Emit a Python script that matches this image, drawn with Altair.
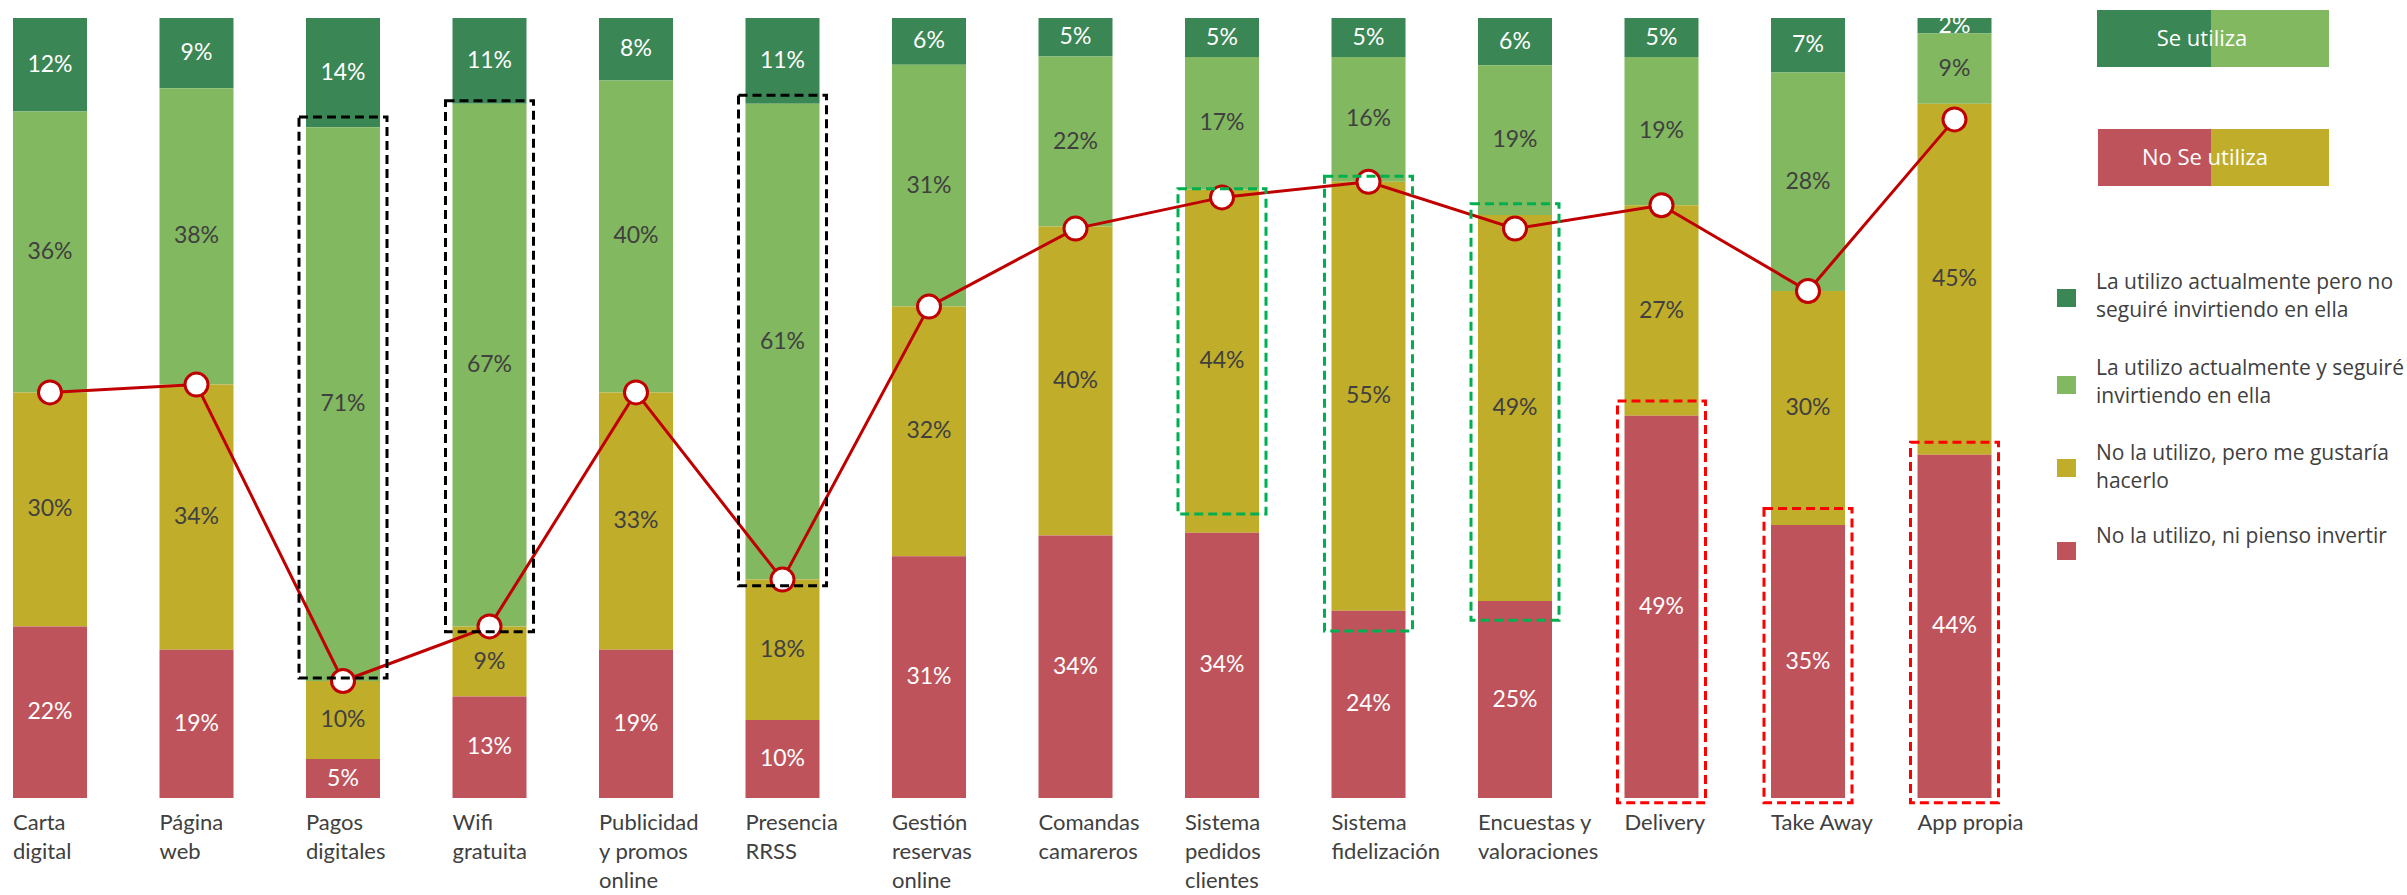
import altair as alt
import pandas as pd

# ---------------- data ----------------
categories = ["Carta|digital", "Página|web", "Pagos|digitales", "Wifi|gratuita",
              "Publicidad|y promos|online", "Presencia|RRSS", "Gestión|reservas|online",
              "Comandas|camareros", "Sistema|pedidos|clientes", "Sistema|fidelización",
              "Encuestas y|valoraciones", "Delivery", "Take Away", "App propia"]

series = ["La utilizo actualmente pero no seguiré invirtiendo en ella",
          "La utilizo actualmente y seguiré invirtiendo en ella",
          "No la utilizo, pero me gustaría hacerlo",
          "No la utilizo, ni pienso invertir"]
series_lines = [["La utilizo actualmente pero no", "seguiré invirtiendo en ella"],
                ["La utilizo actualmente y seguiré", "invirtiendo en ella"],
                ["No la utilizo, pero me gustaría", "hacerlo"],
                ["No la utilizo, ni pienso invertir"]]
colors = ["#3A8654", "#82B85F", "#C0AE2B", "#BF535C"]

uso_sin_inversion = [12, 9, 14, 11, 8, 11, 6, 5, 5, 5, 6, 5, 7, 2]
uso_con_inversion = [36, 38, 71, 67, 40, 61, 31, 22, 17, 16, 19, 19, 28, 9]
no_uso_interes = [30, 34, 10, 9, 33, 18, 32, 40, 44, 55, 49, 27, 30, 45]
no_uso_sin_interes = [22, 19, 5, 13, 19, 10, 31, 34, 34, 24, 25, 49, 35, 44]
stack_order = [3, 2, 1, 0]  # bottom = 0

no_se_utiliza = [52, 53, 15, 22, 52, 28, 63, 73, 77, 79, 73, 76, 65, 87]

# annotation boxes (in % of the bar height)
box_black_cats = [2, 3, 5]
box_black_low = [15.4, 21.3, 27.2]
box_black_high = [87.3, 89.4, 90.1]
box_green_cats = [8, 9, 10]
box_green_low = [36.4, 21.4, 22.8]
box_green_high = [78.1, 79.7, 76.2]
box_red_cats = [11, 12, 13]
box_red_low = [-0.6, -0.6, -0.6]
box_red_high = [50.9, 37.1, 45.6]

# ---------------- tables ----------------
vals = [uso_sin_inversion, uso_con_inversion, no_uso_interes, no_uso_sin_interes]
rows = []
for s_i, s in enumerate(series):
    for c_i, c in enumerate(categories):
        rows.append({"cat": c, "serie": s, "pct": vals[s_i][c_i], "order": stack_order[s_i]})
df = pd.DataFrame(rows)

line_df = pd.DataFrame({"cat": categories, "val": no_se_utiliza})


def box_df(cats, low, high):
    return pd.DataFrame({"cat": [categories[i] for i in cats], "low": low, "high": high})


FONT = "Lato"
LFONT = "Open Sans"
step = 146.5
bandw = 74
pad_inner = 1 - bandw / step
pad_outer = 13 / step
W = step * (len(categories) - pad_inner + 2 * pad_outer)
H = 780
TOP = 18

xenc = alt.X("cat:N", sort=categories,
             scale=alt.Scale(paddingInner=pad_inner, paddingOuter=pad_outer),
             axis=alt.Axis(title=None, labelExpr="split(datum.label, '|')",
                           labelAlign="left", labelOffset=-bandw / 2, labelPadding=14,
                           labelFont=FONT, labelFontSize=22, labelColor="#404040",
                           labelLineHeight=29, domain=False, ticks=False, labelAngle=0,
                           labelBaseline="top", labelLimit=300, labelOverlap=False,
                           labelBound=False))
yscale = alt.Scale(domain=[0, 100], nice=False, zero=False)

base = alt.Chart(df).transform_stack(
    stack="pct", groupby=["cat"], as_=["y0", "y1"], offset="normalize",
    sort=[alt.SortField("order", "ascending")]
).transform_calculate(
    y0p="datum.y0 * 100", y1p="datum.y1 * 100", ymid="(datum.y0 + datum.y1) * 50",
    lab="datum.pct + '%'"
)

bars = base.mark_bar().encode(
    x=xenc,
    y=alt.Y("y0p:Q", scale=yscale, axis=None),
    y2="y1p:Q",
    color=alt.Color("serie:N", scale=alt.Scale(domain=series, range=colors), legend=None)
)

texts = base.mark_text(font=FONT, fontSize=23).encode(
    x=alt.X("cat:N", sort=categories),
    y=alt.Y("ymid:Q", scale=yscale),
    text="lab:N",
    color=alt.condition(alt.FieldOneOfPredicate(field="serie", oneOf=[series[0], series[3]]),
                        alt.value("white"), alt.value("#404040"))
)

line = alt.Chart(line_df).mark_line(color="#C00000", strokeWidth=3).encode(
    x=alt.X("cat:N", sort=categories), y=alt.Y("val:Q", scale=yscale))
points = alt.Chart(line_df).mark_point(filled=False, fill="white", fillOpacity=1,
                                       stroke="#C00000", strokeWidth=3, size=530,
                                       opacity=1).encode(
    x=alt.X("cat:N", sort=categories), y=alt.Y("val:Q", scale=yscale))


def boxes(cats, low, high, color):
    return alt.Chart(box_df(cats, low, high)).mark_bar(
        width=88, fillOpacity=0, fill="white", stroke=color, strokeWidth=3,
        strokeDash=[9, 5]).encode(
        x=alt.X("cat:N", sort=categories),
        y=alt.Y("low:Q", scale=yscale), y2="high:Q")


bx_black = boxes(box_black_cats, box_black_low, box_black_high, "#000000")
bx_green = boxes(box_green_cats, box_green_low, box_green_high, "#00B050")
bx_red = boxes(box_red_cats, box_red_low, box_red_high, "#FF0000")

one = pd.DataFrame({"k": [0]})


def rect(x1, x2, y1, y2, col):
    return alt.Chart(one).mark_rect(color=col).encode(
        x=alt.value(x1), x2=alt.value(x2), y=alt.value(y1 - TOP), y2=alt.value(y2 - TOP))


def label(x, y, txt, col, size, align="center", baseline="middle"):
    return alt.Chart(one).mark_text(font=LFONT, fontSize=size, color=col, align=align,
                                    baseline=baseline, lineBreak="\n", lineHeight=28).encode(
        x=alt.value(x), y=alt.value(y - TOP), text=alt.value(txt))


# "Se utiliza" / "No Se utiliza" boxes
deco = [
    rect(2097, 2211, 10, 67, colors[0]), rect(2211, 2329, 10, 67, colors[1]),
    rect(2098, 2211, 129, 186, colors[3]), rect(2211, 2329, 129, 186, colors[2]),
    label(2202, 39, "Se utiliza", "white", 22),
    label(2205, 158, "No Se utiliza", "white", 22),
]

# legend for the four series
sym_centers = [298, 385, 468, 551]
text_baselines = [289, 375, 460, 543]
for i in range(len(series)):
    c = sym_centers[i]
    deco.append(rect(2057, 2076, c - 9, c + 9, colors[i]))
    deco.append(label(2096, text_baselines[i], "\n".join(series_lines[i]), "#404040", 21,
                      align="left", baseline="alphabetic"))

chart = alt.layer(
    bars, texts, line, points, bx_black, bx_green, bx_red, *deco
).properties(
    width=W, height=H,
    autosize=alt.AutoSizeParams(type="none"),
    padding={"left": 0, "top": TOP, "right": 2407 - W, "bottom": 895 - TOP - H},
    background="white"
).configure_view(stroke=None)

chart.save("out.html", embed_options={"renderer": "svg", "actions": False})
